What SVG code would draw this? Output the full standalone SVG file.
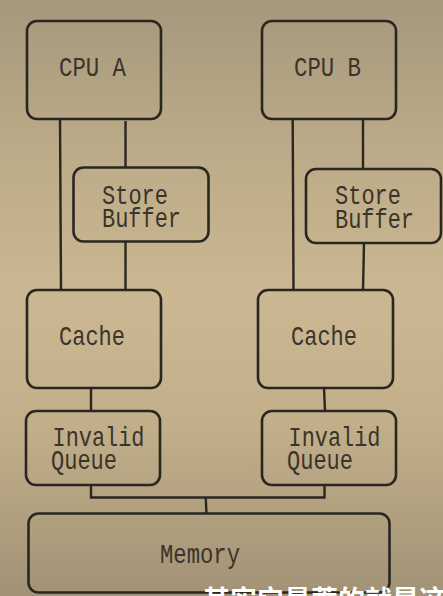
<svg xmlns="http://www.w3.org/2000/svg" width="443" height="596" viewBox="0 0 443 596">
<defs>
<linearGradient id="bg" x1="0" y1="0" x2="0" y2="1">
<stop offset="0" stop-color="#a5987d"/>
<stop offset="0.25" stop-color="#bcab88"/>
<stop offset="0.5" stop-color="#cbb892"/>
<stop offset="0.7" stop-color="#c3b08b"/>
<stop offset="1" stop-color="#a29276"/>
</linearGradient>
<style>
.box{fill:none;stroke:#2a2620;stroke-width:2.6}
.ln{fill:none;stroke:#2a2620;stroke-width:2.4}
.t{font-family:"Liberation Mono",monospace;font-size:28px;fill:#3a3429}
.sub{font-family:"Noto Sans CJK SC",sans-serif;font-size:27px;font-weight:bold;fill:#ffffff}
</style>
</defs>
<rect width="443" height="596" fill="url(#bg)"/>
<g id="connectors">
<line class="ln" x1="60" y1="119" x2="61" y2="290"/>
<line class="ln" x1="125.5" y1="121" x2="125.5" y2="167"/>
<line class="ln" x1="125.5" y1="242" x2="125.5" y2="290"/>
<line class="ln" x1="292.7" y1="119" x2="293.5" y2="290"/>
<line class="ln" x1="363" y1="119" x2="363" y2="169"/>
<line class="ln" x1="364" y1="243" x2="363" y2="290"/>
<line class="ln" x1="91" y1="388" x2="91" y2="411"/>
<line class="ln" x1="324" y1="388" x2="325" y2="411"/>
<polyline class="ln" points="91,485 91,497.5 324.5,497.5 324.5,485"/>
<line class="ln" x1="205.7" y1="497" x2="206.5" y2="514"/>
</g>
<g id="cpuA">
<rect class="box" x="27" y="21" width="134" height="98" rx="10"/>
<text class="t" x="59" y="76" textLength="67" lengthAdjust="spacingAndGlyphs">CPU A</text>
</g>
<g id="storeBufferA">
<rect class="box" x="73.5" y="167.5" width="135" height="74" rx="10"/>
<text class="t" x="102" y="204" textLength="66" lengthAdjust="spacingAndGlyphs">Store</text>
<text class="t" x="102" y="227" textLength="79" lengthAdjust="spacingAndGlyphs">Buffer</text>
</g>
<g id="cacheA">
<rect class="box" x="27" y="290" width="134" height="98" rx="10"/>
<text class="t" x="59" y="345" textLength="66" lengthAdjust="spacingAndGlyphs">Cache</text>
</g>
<g id="invalidQueueA">
<rect class="box" x="26" y="411" width="134" height="74" rx="10"/>
<text class="t" x="52.5" y="446" textLength="92" lengthAdjust="spacingAndGlyphs">Invalid</text>
<text class="t" x="51" y="468.5" textLength="66" lengthAdjust="spacingAndGlyphs">Queue</text>
</g>
<g id="cpuB">
<rect class="box" x="262" y="21" width="134" height="98" rx="10"/>
<text class="t" x="294" y="76" textLength="67" lengthAdjust="spacingAndGlyphs">CPU B</text>
</g>
<g id="storeBufferB">
<rect class="box" x="306" y="169" width="135" height="74" rx="10"/>
<text class="t" x="335" y="204" textLength="66" lengthAdjust="spacingAndGlyphs">Store</text>
<text class="t" x="335" y="228" textLength="79" lengthAdjust="spacingAndGlyphs">Buffer</text>
</g>
<g id="cacheB">
<rect class="box" x="258" y="290" width="135" height="98" rx="10"/>
<text class="t" x="291" y="345" textLength="66" lengthAdjust="spacingAndGlyphs">Cache</text>
</g>
<g id="invalidQueueB">
<rect class="box" x="262" y="411" width="134" height="74" rx="10"/>
<text class="t" x="288.5" y="446" textLength="92" lengthAdjust="spacingAndGlyphs">Invalid</text>
<text class="t" x="287" y="468.5" textLength="66" lengthAdjust="spacingAndGlyphs">Queue</text>
</g>
<g id="memory">
<rect class="box" x="28.5" y="513.5" width="361" height="79" rx="10"/>
<text class="t" x="160" y="563" textLength="80" lengthAdjust="spacingAndGlyphs">Memory</text>
</g>
<text class="sub" x="203" y="610">其实它最蓄的就是这</text>
</svg>
